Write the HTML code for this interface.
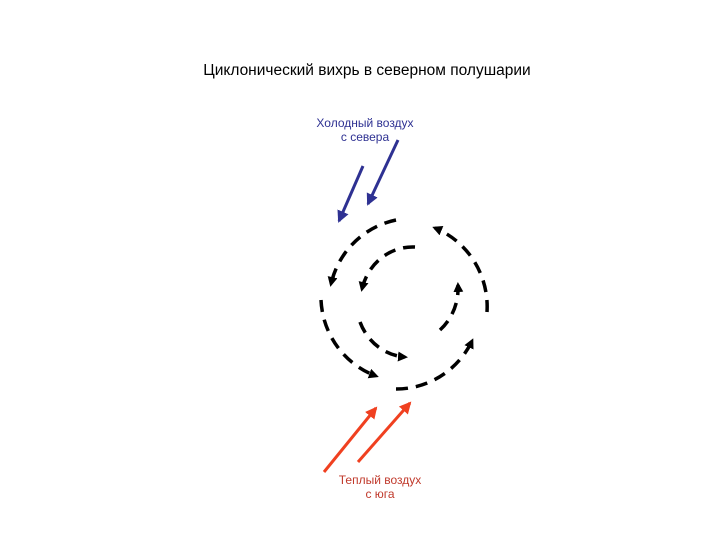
<!DOCTYPE html>
<html><head><meta charset="utf-8"><style>
html,body{margin:0;padding:0;background:#fff;}
svg{display:block;}
text{font-family:"Liberation Sans",Arial,sans-serif;}
</style></head><body>
<svg width="720" height="540" viewBox="0 0 720 540" xmlns="http://www.w3.org/2000/svg">
<defs>
<marker id="ak" markerWidth="10" markerHeight="10" refX="7" refY="5" orient="auto" markerUnits="userSpaceOnUse"><path d="M0,0 L10,5 L0,10 z" fill="#000"/></marker>
<marker id="ab" markerWidth="12" markerHeight="12" refX="10" refY="6" orient="auto" markerUnits="userSpaceOnUse"><path d="M0,0 L12,6 L0,12 z" fill="#2e3192"/></marker>
<marker id="ar" markerWidth="12" markerHeight="12" refX="10" refY="6" orient="auto" markerUnits="userSpaceOnUse"><path d="M0,0 L12,6 L0,12 z" fill="#f04020"/></marker>
</defs>
<text x="367" y="75" font-size="15.5" text-anchor="middle" fill="#000">Циклонический вихрь в северном полушарии</text>
<text x="365" y="127" font-size="12" text-anchor="middle" fill="#2e3192">Холодный воздух</text>
<text x="365" y="141" font-size="12" text-anchor="middle" fill="#2e3192">с севера</text>
<text x="380" y="484" font-size="12" text-anchor="middle" fill="#c0392b">Теплый воздух</text>
<text x="380" y="498" font-size="12" text-anchor="middle" fill="#c0392b">с юга</text>
<g stroke="#2e3192" stroke-width="3" fill="none">
<line x1="363" y1="166" x2="339" y2="221" marker-end="url(#ab)"/>
<line x1="398" y1="140" x2="368" y2="204" marker-end="url(#ab)"/>
</g>
<g stroke="#f04020" stroke-width="3" fill="none">
<line x1="324" y1="472" x2="376" y2="408" marker-end="url(#ar)"/>
<line x1="358" y1="462" x2="410" y2="403" marker-end="url(#ar)"/>
</g>
<g stroke="#000" stroke-width="3.5" fill="none" stroke-dasharray="12,8">
<path d="M396,220 A84,85 0 0 0 331,284" marker-end="url(#ak)"/>
<path d="M321,300 A84,85 0 0 0 376,376" marker-end="url(#ak)"/>
<path d="M396,389 A84,85 0 0 0 472,341" marker-end="url(#ak)"/>
<path d="M487,312 A84,85 0 0 0 435,228" marker-end="url(#ak)"/>
<path d="M415,247 A52,55 0 0 0 362,289" marker-end="url(#ak)"/>
<path d="M360,322 A52,55 0 0 0 405,357" marker-end="url(#ak)"/>
<path d="M440,330 A52,55 0 0 0 458,285" marker-end="url(#ak)"/>
</g>
</svg>
</body></html>
